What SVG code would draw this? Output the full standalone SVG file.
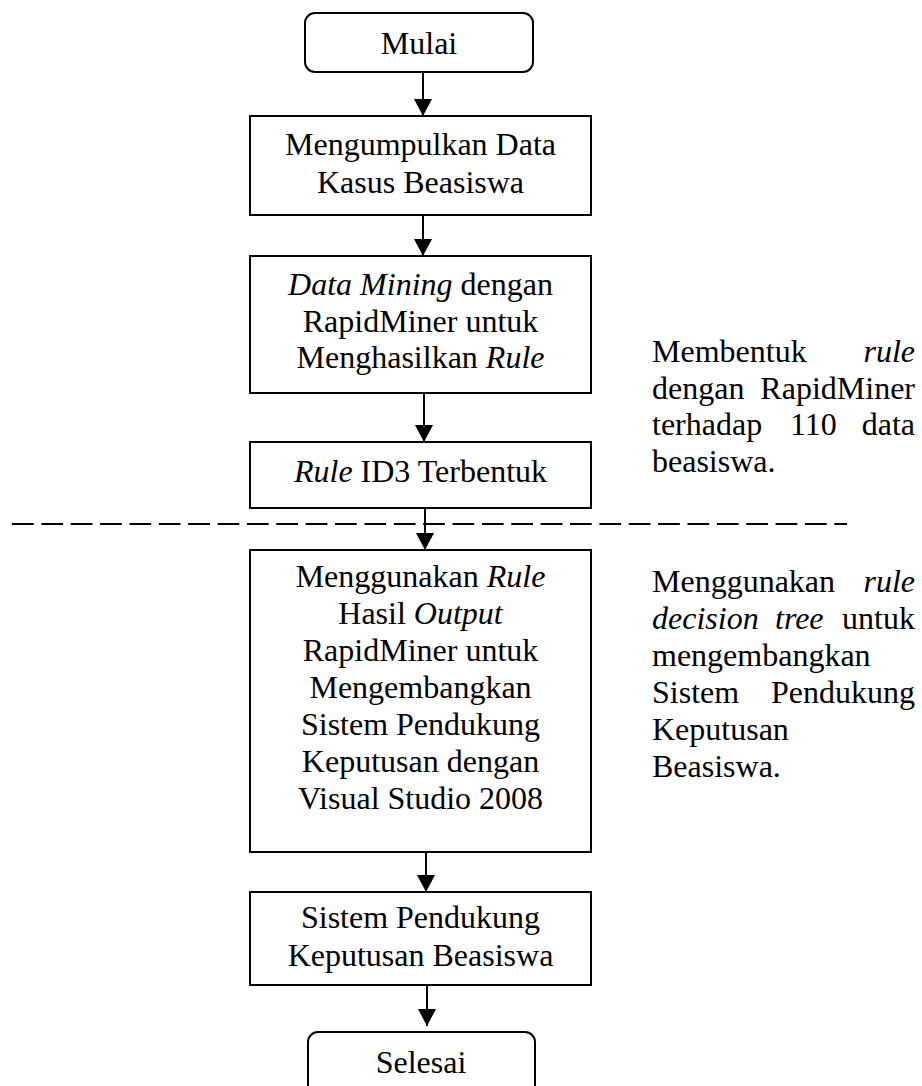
<svg xmlns="http://www.w3.org/2000/svg" width="922" height="1086" viewBox="0 0 922 1086">
<style>
text{font-family:"Liberation Serif","Times New Roman",serif;font-size:32px;fill:#000}
.c{text-anchor:middle}
.e{text-anchor:end}
.i{font-style:italic}
.box{fill:#fff;stroke:#000;stroke-width:2}
.conn{stroke:#000;stroke-width:2;fill:none}
</style>
<defs>
<marker id="arr" markerWidth="17" markerHeight="18" refX="17" refY="9" orient="auto" markerUnits="userSpaceOnUse">
<path d="M0,0 L17,9 L0,18 Z" fill="#000"/>
</marker>
</defs>
<rect width="922" height="1086" fill="#fff"/>
<g id="connectors">
<line class="conn" x1="423" y1="72" x2="423" y2="116" marker-end="url(#arr)"/>
<line class="conn" x1="423" y1="215" x2="423" y2="256" marker-end="url(#arr)"/>
<line class="conn" x1="424" y1="393" x2="424" y2="442" marker-end="url(#arr)"/>
<line class="conn" x1="425" y1="508" x2="425" y2="550" marker-end="url(#arr)"/>
<line class="conn" x1="426" y1="852" x2="426" y2="892" marker-end="url(#arr)"/>
<line class="conn" x1="427" y1="985" x2="427" y2="1026" marker-end="url(#arr)"/>
</g>
<g id="divider">
<line x1="12" y1="524" x2="847" y2="524" stroke="#000" stroke-width="2.2" stroke-dasharray="21.7 7.67"/>
</g>
<g id="mulai">
<rect class="box" x="305" y="13" width="228" height="59" rx="10"/>
<text class="c" x="419" y="54">Mulai</text>
</g>
<g id="kumpul">
<rect class="box" x="250" y="116" width="341" height="99"/>
<text class="c" x="420.5" y="155">Mengumpulkan Data</text>
<text class="c" x="420.5" y="193">Kasus Beasiswa</text>
</g>
<g id="mining">
<rect class="box" x="250" y="256" width="341" height="137"/>
<text class="c" x="420.5" y="295"><tspan class="i">Data Mining</tspan> dengan</text>
<text class="c" x="420.5" y="332">RapidMiner untuk</text>
<text class="c" x="420.5" y="368">Menghasilkan <tspan class="i">Rule</tspan></text>
</g>
<g id="rule">
<rect class="box" x="250" y="442" width="341" height="66"/>
<text class="c" x="420.5" y="482"><tspan class="i">Rule</tspan> ID3 Terbentuk</text>
</g>
<g id="menggunakan">
<rect class="box" x="250" y="550" width="341" height="302"/>
<text class="c" x="420.5" y="587">Menggunakan <tspan class="i">Rule</tspan></text>
<text class="c" x="420.5" y="624">Hasil <tspan class="i">Output</tspan></text>
<text class="c" x="420.5" y="661">RapidMiner untuk</text>
<text class="c" x="420.5" y="698">Mengembangkan</text>
<text class="c" x="420.5" y="735">Sistem Pendukung</text>
<text class="c" x="420.5" y="772">Keputusan dengan</text>
<text class="c" x="420.5" y="809">Visual Studio 2008</text>
</g>
<g id="spk">
<rect class="box" x="250" y="892" width="341" height="93"/>
<text class="c" x="420.5" y="928">Sistem Pendukung</text>
<text class="c" x="420.5" y="966">Keputusan Beasiswa</text>
</g>
<g id="selesai">
<rect class="box" x="308" y="1032" width="227" height="70" rx="10"/>
<text class="c" x="421" y="1073">Selesai</text>
</g>
<g id="note1">
<text x="652" y="362">Membentuk</text>
<text class="e i" x="915" y="362">rule</text>
<text x="652" y="398.7">dengan</text>
<text class="e" x="915" y="398.7">RapidMiner</text>
<text x="652" y="435.4">terhadap</text>
<text x="790" y="435.4">110</text>
<text class="e" x="915" y="435.4">data</text>
<text x="652" y="472">beasiswa.</text>
</g>
<g id="note2">
<text x="652" y="592">Menggunakan</text>
<text class="e i" x="915" y="592">rule</text>
<text class="i" x="652" y="629">decision</text>
<text class="i" x="775" y="629">tree</text>
<text class="e" x="915" y="629">untuk</text>
<text x="652" y="666">mengembangkan</text>
<text x="652" y="703">Sistem</text>
<text class="e" x="915" y="703">Pendukung</text>
<text x="652" y="740">Keputusan</text>
<text x="652" y="777">Beasiswa.</text>
</g>
</svg>
